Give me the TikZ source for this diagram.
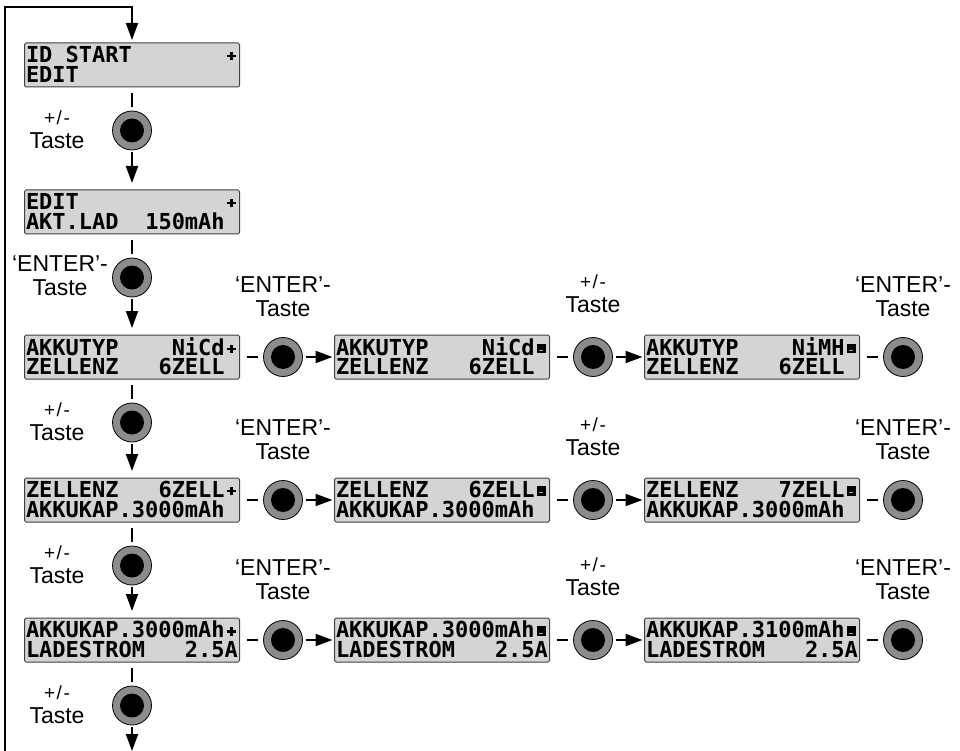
\documentclass[tikz,border=0pt]{standalone}
\usepackage{fontspec}
\setmainfont{Liberation Sans}
\newfontfamily\lcdfont{DejaVu Sans Mono}
\usetikzlibrary{positioning,arrows.meta}

\definecolor{lcdgray}{HTML}{D4D4D4}
\definecolor{knobgray}{HTML}{8C8C8C}

% one character cell of the display
\newcommand\blank{\hspace*{13.24pt}}
\newcommand\plusmark{\makebox[13.24pt]{\rlap{\rule[5.2pt]{9.5pt}{2.6pt}}\hspace*{3.45pt}\rule[2.2pt]{2.6pt}{8.6pt}\hspace*{3.45pt}}}
\newcommand\boxmark{\makebox[13.24pt]{\rlap{\rule[2pt]{9.5pt}{9.5pt}}\hspace*{2.7pt}{\color{black!35}\rule[4.6pt]{4pt}{0.7pt}}\hspace*{2.8pt}}}
\newcommand\lcdline[2]{\hbox to 212pt{\rule[-1.5pt]{0pt}{17.5pt}#1\hfill#2}}
\newcommand\lcdtext[4]{\vbox{\baselineskip=19.5pt\lineskip=0pt\lineskiplimit=-20pt\lcdline{#1}{#2}\lcdline{#3}{#4}}}
\newcommand\pmtaste{{\fontsize{19}{19}\selectfont +\kern1.5pt/\kern1.5pt-}\\Taste}
\newcommand\entertaste{‘ENTER’-\\Taste}

\begin{document}
\begin{tikzpicture}[x=1pt,y=-1pt,
    lcd/.style={rectangle,draw=black!75,line width=1pt,fill=lcdgray,rounded corners=1.5pt,
        minimum width=215pt,minimum height=44pt,inner xsep=1.5pt,inner ysep=1pt,outer sep=0pt,
        font={\lcdfont\fontsize{22}{19.5}\bfseries}},
    knob/.style={circle,draw=black,line width=0.8pt,fill=knobgray,minimum size=39pt,
        inner sep=0pt,outer sep=0pt,
        path picture={\fill[black] (path picture bounding box.center) circle[radius=12pt];}},
    conn/.style={line width=2pt},
    arr/.style={line width=2pt,-{Triangle[length=17pt,width=12pt]}},
    lbl/.style={font=\fontsize{23}{24}\selectfont,align=center,inner sep=0pt}]
    \useasboundingbox (0,0) rectangle (960,751);

    % left column
    \node[lcd] (d1) at (132,65) {\lcdtext{ID START}{\plusmark}{EDIT}{}};
    \node[knob,below=24pt of d1] (v1) {};
    \node[lcd] (d2) at (132,212) {\lcdtext{EDIT}{\plusmark}{AKT.LAD}{150mAh\blank}};
    \node[knob,below=24pt of d2] (v2) {};

    % rows
    \node[lcd] (r1a) at (132,357) {\lcdtext{AKKUTYP}{NiCd\plusmark}{ZELLENZ}{6ZELL\blank}};
    \node[lcd] (r1b) at (442,357) {\lcdtext{AKKUTYP}{NiCd\boxmark}{ZELLENZ}{6ZELL\blank}};
    \node[lcd] (r1c) at (752,357) {\lcdtext{AKKUTYP}{NiMH\boxmark}{ZELLENZ}{6ZELL\blank}};
    \node[knob,below=24pt of r1a] (v3) {};

    \node[lcd] (r2a) at (132,500) {\lcdtext{ZELLENZ}{6ZELL\plusmark}{AKKUKAP.3000mAh}{\blank}};
    \node[lcd] (r2b) at (442,500) {\lcdtext{ZELLENZ}{6ZELL\boxmark}{AKKUKAP.3000mAh}{\blank}};
    \node[lcd] (r2c) at (752,500) {\lcdtext{ZELLENZ}{7ZELL\boxmark}{AKKUKAP.3000mAh}{\blank}};
    \node[knob,below=24pt of r2a] (v4) {};

    \node[lcd] (r3a) at (132,640) {\lcdtext{AKKUKAP.3000mAh}{\plusmark}{LADESTROM}{2.5A}};
    \node[lcd] (r3b) at (442,640) {\lcdtext{AKKUKAP.3000mAh}{\boxmark}{LADESTROM}{2.5A}};
    \node[lcd] (r3c) at (752,640) {\lcdtext{AKKUKAP.3100mAh}{\boxmark}{LADESTROM}{2.5A}};
    \node[knob,below=24pt of r3a] (v5) {};

    \foreach \r in {1,2,3} {
        \node[knob,right=24pt of r\r a] (k\r a) {};
        \node[knob,right=24pt of r\r b] (k\r b) {};
        \node[knob,right=24pt of r\r c] (k\r c) {};
        \draw[conn,shorten <=7pt,shorten >=6pt] (r\r a) -- (k\r a);
        \draw[arr,shorten <=3pt,shorten >=2pt] (k\r a) -- (r\r b);
        \draw[conn,shorten <=7pt,shorten >=6pt] (r\r b) -- (k\r b);
        \draw[arr,shorten <=3pt,shorten >=2pt] (k\r b) -- (r\r c);
        \draw[conn,shorten <=7pt,shorten >=6pt] (r\r c) -- (k\r c);
        \node[lbl] (l\r a) at ([yshift=60pt]k\r a.center) {\entertaste};
        \node[lbl] (l\r b) at ([yshift=63pt]k\r b.center) {\pmtaste};
        \node[lbl] (l\r c) at ([yshift=60pt]k\r c.center) {\entertaste};
    }

    % vertical connectors
    \draw[conn,shorten <=6pt,shorten >=4pt] (d1) -- (v1);
    \draw[arr,shorten <=2pt,shorten >=7pt] (v1) -- (d2);
    \draw[conn,shorten <=6pt,shorten >=4pt] (d2) -- (v2);
    \draw[arr,shorten <=2pt,shorten >=7pt] (v2) -- (r1a);
    \draw[conn,shorten <=6pt,shorten >=4pt] (r1a) -- (v3);
    \draw[arr,shorten <=2pt,shorten >=7pt] (v3) -- (r2a);
    \draw[conn,shorten <=6pt,shorten >=4pt] (r2a) -- (v4);
    \draw[arr,shorten <=2pt,shorten >=7pt] (v4) -- (r3a);
    \draw[conn,shorten <=6pt,shorten >=4pt] (r3a) -- (v5);

    \node[lbl] (lv1) at ([shift={(-75pt,1pt)}]v1.center) {\pmtaste};
    \node[lbl] (lv2) at ([shift={(-72pt,2pt)}]v2.center) {\entertaste};
    \node[lbl] (lv3) at ([shift={(-75pt,1pt)}]v3.center) {\pmtaste};
    \node[lbl] (lv4) at ([shift={(-75pt,1pt)}]v4.center) {\pmtaste};
    \node[lbl] (lv5) at ([shift={(-75pt,1pt)}]v5.center) {\pmtaste};

    % loop back to the start
    \coordinate (bottom) at (132,751);
    \coordinate (back) at (5,751);
    \coordinate (corner) at (5,7);
    \draw[arr,shorten <=2pt] (v5) -- (bottom);
    \draw[arr,shorten >=3pt] (back) |- (d1.north |- corner) -- (d1.north);
\end{tikzpicture}
\end{document}
